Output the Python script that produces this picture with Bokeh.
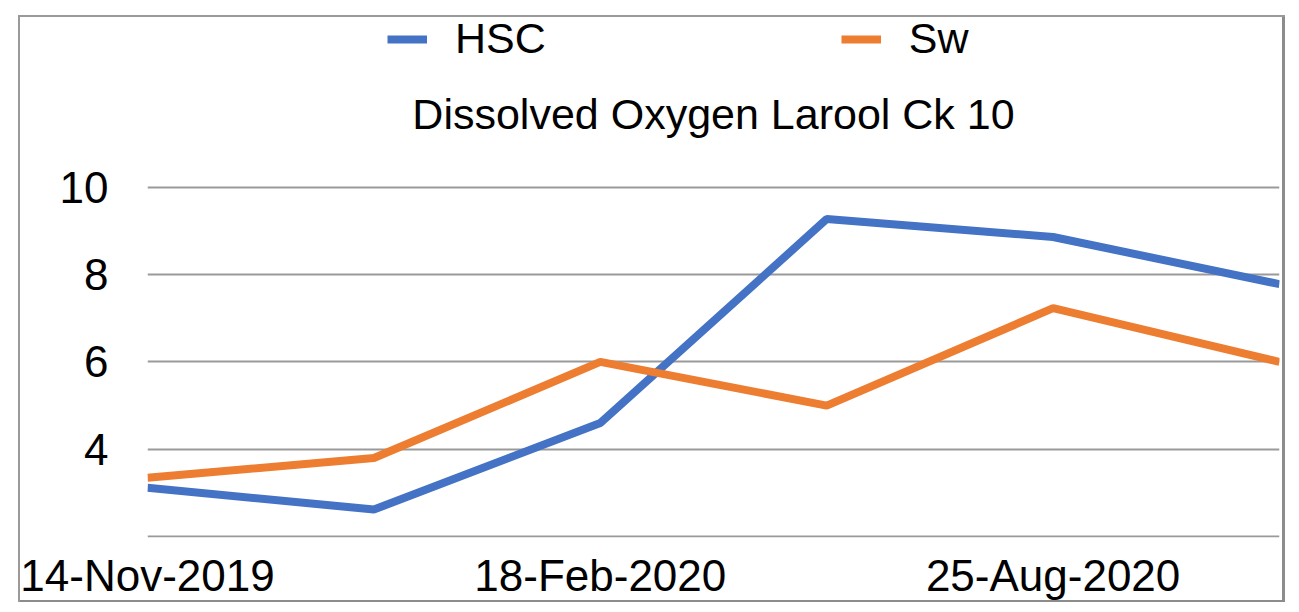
from bokeh.plotting import figure
from bokeh.models import FixedTicker, Legend, LegendItem, Range1d, Label
from bokeh.embed import file_html
from bokeh.resources import INLINE

# ---- data ----
dates = ["14-Nov-2019", "", "18-Feb-2020", "", "25-Aug-2020", ""]
hsc = [3.12, 2.62, 4.6, 9.27, 8.86, 7.78]
sw = [3.35, 3.8, 6.0, 5.0, 7.23, 6.0]
y_ticks = [2, 4, 6, 8, 10]
y_tick_labels = {2: "", 4: "4", 6: "6", 8: "8", 10: "10"}
title_text = "Dissolved Oxygen Larool Ck 10"
series_names = ["HSC", "Sw"]
colors = ["#4472C4", "#ED7D31"]

FONT = "Liberation Sans"
x = list(range(len(dates)))

# plot area spans y 2..10 at the bottom; room above it holds legend and title
p = figure(width=1294, height=610, output_backend="svg", toolbar_location=None,
           x_range=Range1d(0, len(dates) - 1), y_range=Range1d(1.98, 14.0),
           min_border_left=147, min_border_right=15, min_border_top=12,
           min_border_bottom=73, title=None)
# thin grey chart-area border
p.styles = {"box-shadow": ("inset 18px 15px 0 0 #ffffff, inset -9px -8px 0 0 #ffffff, "
                           "inset 20px 17px 0 0 #9a9a9a, inset -12px -10px 0 0 #8c8c8c")}
p.outline_line_color = None
p.background_fill_alpha = 0
p.border_fill_alpha = 0

# axes
p.xaxis.ticker = FixedTicker(ticks=x)
p.xaxis.major_label_overrides = {i: d for i, d in zip(x, dates)}
p.yaxis.ticker = FixedTicker(ticks=y_ticks)
p.yaxis.major_label_overrides = y_tick_labels
for ax in (p.xaxis, p.yaxis):
    ax.axis_line_color = None
    ax.major_tick_line_color = None
    ax.minor_tick_line_color = None
    ax.major_label_text_font = FONT
    ax.major_label_text_font_size = "44px"
    ax.major_label_text_color = "black"
p.yaxis.major_label_standoff = 33
p.xaxis.major_label_standoff = 7

p.xgrid.visible = False
p.ygrid.grid_line_color = "#9a9a9a"
p.ygrid.grid_line_width = 2

r1 = p.line(x, hsc, line_color=colors[0], line_width=8)
r2 = p.line(x, sw, line_color=colors[1], line_width=8)

# chart title
p.add_layout(Label(x=(len(dates) - 1) / 2, y=11.68, text=title_text,
                   text_font=FONT, text_font_size="43px", text_color="black",
                   text_align="center", text_baseline="alphabetic"))

legend = Legend(items=[LegendItem(label=series_names[0], renderers=[r1]),
                       LegendItem(label=series_names[1], renderers=[r2])],
                orientation="horizontal", location=(240, 474),
                label_text_font=FONT, label_text_font_size="43px",
                label_text_color="black", glyph_width=40, glyph_height=40,
                label_standoff=28, spacing=295, padding=0, margin=0,
                border_line_color=None, background_fill_alpha=0)
p.add_layout(legend, "center")

open("out.html", "w").write(file_html(p, INLINE))
